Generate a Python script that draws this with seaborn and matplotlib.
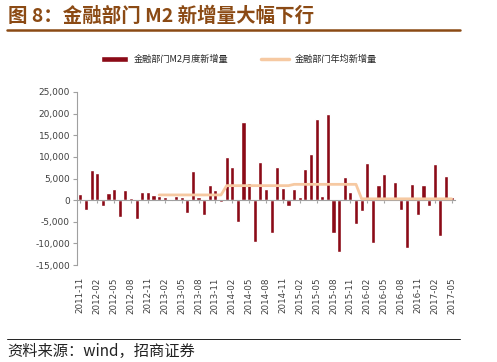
import numpy as np
import pandas as pd
import matplotlib
matplotlib.use("Agg")
import matplotlib.pyplot as plt
from matplotlib.lines import Line2D
import seaborn as sns

# ---- data ----
start_year, start_month = 2011, 11
monthly_new = [1400, -2300, 6900, 6300, -1450, 1600, 2550, -3850, 2300, 400,
               -4250, 1900, 1900, 1300, 900, 800, -300, 850, 800, -3000,
               6800, 800, -3400, 3450, 2300, -450, 10000, 7550, -5150, 17950,
               3850, -9600, 8850, 2600, -7700, 7550, 2900, -1450, 2550, 800,
               7250, 10700, 18850, 900, 19800, -7700, -12100, 5400, 1900, -5550,
               -2600, 8550, -9850, 3450, 6000, 800, 4150, -2300, -11100, 3800,
               -3400, 3450, -1400, 8250, -8300, 5600, 700]
annual_avg_years = [2013, 2014, 2015, 2016, 2017]
annual_avg_values = [1200, 3350, 3650, 300, 300]
yticks = [-15000, -10000, -5000, 0, 5000, 10000, 15000, 20000, 25000]

title = "图 8：金融部门 M2 新增量大幅下行"
source = "资料来源：wind，招商证券"
bar_label = "金融部门M2月度新增量"
line_label = "金融部门年均新增量"

months = []
y, m = start_year, start_month
for _ in monthly_new:
    months.append((y, m))
    m += 1
    if m > 12:
        m, y = 1, y + 1
labels = [f"{yy}-{mm:02d}" for yy, mm in months]
avg_map = dict(zip(annual_avg_years, annual_avg_values))
df = pd.DataFrame({"month": labels, "value": monthly_new,
                   "pos": np.arange(len(labels)),
                   "avg": [avg_map.get(yy, np.nan) for yy, mm in months]})

sns.set_style("white")
plt.rcParams['font.family'] = ['Noto Sans CJK SC', 'DejaVu Sans']

fig = plt.figure(figsize=(4.97, 3.62), dpi=100)
ax = fig.add_axes([77/497, 1-265/362, 378/497, 173/362])

bar_color = "#8B0A17"
line_color = "#F6C9A2"
sns.barplot(data=df, x="month", y="value", color=bar_color, width=0.72,
            saturation=1, ax=ax, label=bar_label, zorder=2)
dl = df.dropna(subset=["avg"])
sns.lineplot(data=dl, x="pos", y="avg", color=line_color, linewidth=2,
             ax=ax, label=line_label, zorder=3)

ax.set_xlim(-0.6, len(labels) - 0.4)
ax.set_ylim(-15000, 25000)
ax.set_yticks(yticks)
ax.set_yticklabels([f"{v:,}" for v in yticks])
tick_pos = list(range(0, len(labels), 3))
ax.set_xticks(tick_pos)
ax.set_xticklabels([labels[i] for i in tick_pos])
ax.set_xlabel("")
ax.set_ylabel("")

for s in ["top", "right"]:
    ax.spines[s].set_visible(False)
ax.spines["left"].set_color("#A0A0A0")
ax.spines["left"].set_linewidth(0.8)
ax.spines["bottom"].set_position(("data", 0))
ax.spines["bottom"].set_color("#A0A0A0")
ax.spines["bottom"].set_linewidth(0.8)
ax.tick_params(axis="y", left=True, length=3, width=0.8, color="#A0A0A0",
               labelsize=6.5, labelcolor="#404040", pad=2)
ax.tick_params(axis="x", bottom=True, length=2.5, width=0.8, color="#A0A0A0",
               pad=53, labelrotation=90, labelsize=6.3, labelcolor="#404040")
for t in ax.get_yticklabels() + ax.get_xticklabels():
    t.set_family(["DejaVu Sans"])
for t in ax.get_xticklabels():
    t.set_rotation(90)
    t.set_va("top")
    t.set_ha("center")

handles, lbls = ax.get_legend_handles_labels()
order = [lbls.index(bar_label), lbls.index(line_label)]
leg = ax.legend([handles[i] for i in order], [lbls[i] for i in order],
                loc="lower left", bbox_to_anchor=(20/378, 1.14), ncol=2,
                frameon=False, fontsize=6.6, handlelength=3.0,
                columnspacing=3.6, handletextpad=0.6, borderaxespad=0)
for h in leg.legend_handles:
    if isinstance(h, Line2D):
        h.set_linewidth(2.5)

tcol = "#8B4A14"
fig.text(8/497, 1-16/362, title, fontsize=14, fontweight="bold",
         color=tcol, va="center", ha="left")
fig.add_artist(Line2D([7/497, 460/497], [1-30/362, 1-30/362],
                      color=tcol, linewidth=1.8))
fig.add_artist(Line2D([7/497, 460/497], [1-339/362, 1-339/362],
                      color="#222222", linewidth=0.7))
fig.text(7/497, 1-351/362, source, fontsize=11, color="#222222",
         va="center", ha="left")

fig.savefig("out.png", dpi=100, facecolor="white")
